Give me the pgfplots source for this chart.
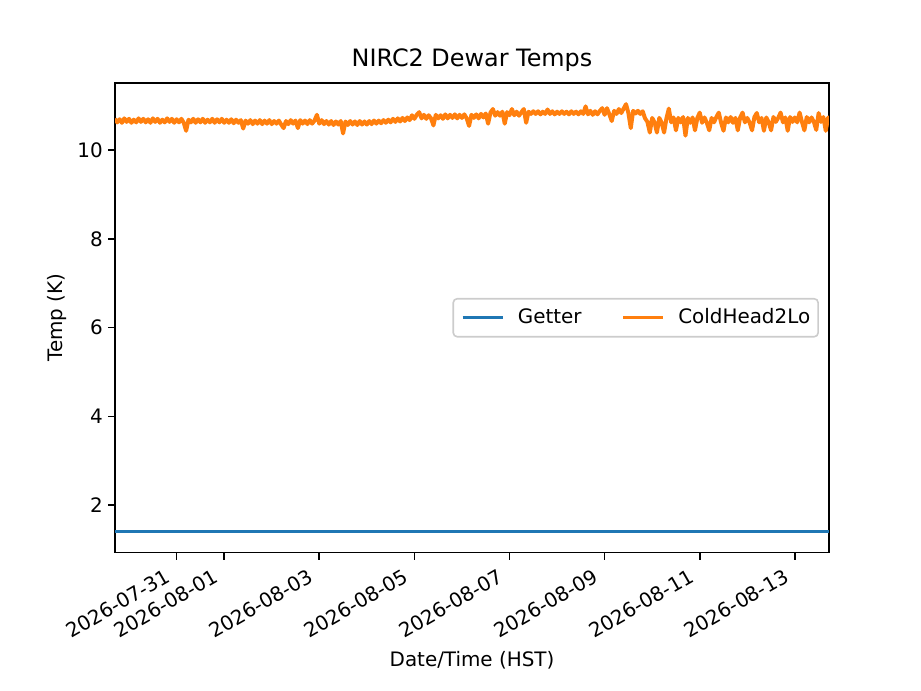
\documentclass[border=0pt]{standalone}
\usepackage{fontspec}
\setmainfont{DejaVu Sans}
\usepackage{pgfplots}
\pgfplotsset{compat=1.18}
\definecolor{mplblue}{HTML}{1F77B4}
\definecolor{mplorange}{HTML}{FF7F0E}
\begin{document}
\fontsize{10}{12}\selectfont
\begin{tikzpicture}
\path[use as bounding box] (-0.8in,-0.96in) rectangle (5.6in,3.84in);
\begin{axis}[
  at={(0,0)}, anchor=south west,
  scale only axis, width=4.96in, height=3.264in,
  xmin=-2.293, xmax=12.716, ymin=0.927, ymax=11.52,
  axis line style={line width=0.8pt, black},
  every tick/.style={line width=0.8pt, black},
  major tick length=3.5pt,
  tick align=outside,
  xtick pos=lower, ytick pos=left,
  xtick={-1,0,2,4,6,8,10,12},
  xticklabels={2026-07-31,2026-08-01,2026-08-03,2026-08-05,2026-08-07,2026-08-09,2026-08-11,2026-08-13},
  ytick={2,4,6,8,10},
  /pgf/number format/assume math mode=true,
  ticklabel style={font=\fontsize{10}{12}\selectfont},
  xticklabel style={xshift=-6pt, yshift=-4pt, rotate=30, anchor=north east, inner sep=0pt},
  yticklabel style={xshift=-2.5pt, anchor=east, inner sep=0pt},
  every axis title shift=0pt,
  title={NIRC2 Dewar Temps},
  title style={at={(axis description cs:0.5,1.0355)}, anchor=base, font=\fontsize{12}{14}\selectfont, inner sep=0pt},
  xlabel={Date/Time (HST)},
  xlabel style={at={(axis description cs:0.5,-0.2419)}, anchor=base, inner sep=0pt, font=\fontsize{10}{12}\selectfont},
  ylabel={Temp (K)},
  ylabel style={at={(axis description cs:-0.0734,0.5)}, anchor=base, inner sep=0pt, font=\fontsize{10}{12}\selectfont},
  legend columns=2,
  legend cell align=left,
  legend image code/.code={\draw[#1, line width=1.5pt] (0pt,0pt) -- (20pt,0pt);},
  legend style={at={(axis description cs:1,0.5)}, anchor=east, xshift=-5pt,
    draw=black!20, line width=0.8pt, rounded corners=2pt, fill=white, fill opacity=0.8, text opacity=1,
    font=\fontsize{10}{12}\selectfont, inner xsep=4pt, inner ysep=3.5pt,
    nodes={inner xsep=0pt, inner ysep=1.5pt},
    /tikz/every odd column/.append style={column sep=7pt},
    /tikz/every even column/.append style={column sep=20pt}},
]
\addplot[mplblue, line width=1.5pt] coordinates {(-2.30,1.40) (12.72,1.40)};
\addlegendentry{Getter}
\addplot[mplorange, line width=2pt, line join=round] coordinates {
(-2.30,10.71) (-2.25,10.63) (-2.20,10.70) (-2.15,10.62) (-2.10,10.72) (-2.05,10.64) (-2.00,10.71) (-1.95,10.62) (-1.90,10.69) (-1.85,10.63)
(-1.80,10.72) (-1.75,10.64) (-1.70,10.71) (-1.65,10.63) (-1.60,10.70) (-1.55,10.62) (-1.50,10.72) (-1.45,10.64) (-1.40,10.71) (-1.35,10.62)
(-1.30,10.69) (-1.25,10.63) (-1.20,10.72) (-1.15,10.64) (-1.10,10.71) (-1.05,10.62) (-1.00,10.70) (-0.95,10.63) (-0.90,10.71) (-0.85,10.62)
(-0.80,10.44) (-0.75,10.69) (-0.70,10.63) (-0.65,10.71) (-0.60,10.62) (-0.55,10.70) (-0.50,10.63) (-0.45,10.71) (-0.40,10.62) (-0.35,10.69)
(-0.30,10.63) (-0.25,10.71) (-0.20,10.62) (-0.15,10.70) (-0.10,10.63) (-0.05,10.71) (0.00,10.62) (0.05,10.69) (0.10,10.62) (0.15,10.70)
(0.20,10.61) (0.25,10.69) (0.30,10.62) (0.35,10.68) (0.40,10.49) (0.45,10.67) (0.50,10.60) (0.55,10.68) (0.60,10.59) (0.65,10.67)
(0.70,10.60) (0.75,10.68) (0.80,10.59) (0.85,10.67) (0.90,10.60) (0.95,10.68) (1.00,10.59) (1.05,10.66) (1.10,10.60) (1.15,10.67)
(1.20,10.58) (1.25,10.50) (1.30,10.66) (1.35,10.59) (1.40,10.68) (1.45,10.60) (1.50,10.67) (1.55,10.50) (1.60,10.68) (1.65,10.60)
(1.70,10.67) (1.75,10.59) (1.80,10.68) (1.85,10.60) (1.90,10.67) (1.95,10.80) (2.00,10.60) (2.05,10.68) (2.10,10.59) (2.15,10.66)
(2.20,10.58) (2.25,10.66) (2.30,10.57) (2.35,10.65) (2.40,10.58) (2.45,10.66) (2.50,10.38) (2.55,10.65) (2.60,10.57) (2.65,10.66)
(2.70,10.58) (2.75,10.65) (2.80,10.57) (2.85,10.66) (2.90,10.58) (2.95,10.65) (3.00,10.58) (3.05,10.66) (3.10,10.59) (3.15,10.67)
(3.20,10.60) (3.25,10.67) (3.30,10.61) (3.35,10.68) (3.40,10.62) (3.45,10.69) (3.50,10.63) (3.55,10.71) (3.60,10.64) (3.65,10.72)
(3.70,10.65) (3.75,10.73) (3.80,10.66) (3.85,10.74) (3.90,10.68) (3.95,10.79) (4.00,10.71) (4.05,10.80) (4.10,10.86) (4.15,10.72)
(4.20,10.80) (4.25,10.71) (4.30,10.79) (4.35,10.72) (4.40,10.56) (4.45,10.80) (4.50,10.72) (4.55,10.79) (4.60,10.71) (4.65,10.81)
(4.70,10.72) (4.75,10.80) (4.80,10.73) (4.85,10.81) (4.90,10.72) (4.95,10.80) (5.00,10.73) (5.05,10.81) (5.10,10.72) (5.15,10.55)
(5.20,10.80) (5.25,10.73) (5.30,10.81) (5.35,10.72) (5.40,10.82) (5.45,10.74) (5.50,10.83) (5.55,10.60) (5.60,10.85) (5.65,10.93)
(5.70,10.78) (5.75,10.86) (5.80,10.78) (5.85,10.87) (5.90,10.60) (5.95,10.86) (6.00,10.79) (6.05,10.93) (6.10,10.79) (6.15,10.87)
(6.20,10.78) (6.25,10.86) (6.30,10.93) (6.35,10.62) (6.40,10.87) (6.45,10.82) (6.50,10.88) (6.55,10.82) (6.60,10.88) (6.65,10.81)
(6.70,10.87) (6.75,10.82) (6.80,10.92) (6.85,10.82) (6.90,10.88) (6.95,10.81) (7.00,10.87) (7.05,10.82) (7.10,10.88) (7.15,10.82)
(7.20,10.87) (7.25,10.81) (7.30,10.88) (7.35,10.82) (7.40,10.87) (7.45,10.81) (7.50,10.88) (7.55,10.82) (7.60,10.99) (7.65,10.81)
(7.70,10.89) (7.75,10.80) (7.80,10.88) (7.85,10.81) (7.90,10.89) (7.95,10.95) (8.00,10.80) (8.05,10.95) (8.10,10.81) (8.15,10.66)
(8.20,10.89) (8.25,10.82) (8.30,10.93) (8.35,10.84) (8.40,10.94) (8.45,11.04) (8.50,10.84) (8.55,10.50) (8.60,10.89) (8.65,10.83)
(8.70,10.89) (8.75,10.82) (8.80,10.88) (8.85,10.72) (8.90,10.64) (8.95,10.40) (9.00,10.73) (9.05,10.63) (9.10,10.40) (9.15,10.73)
(9.20,10.62) (9.25,10.40) (9.30,10.72) (9.35,10.94) (9.40,10.63) (9.45,10.74) (9.50,10.45) (9.55,10.73) (9.60,10.63) (9.65,10.75)
(9.70,10.33) (9.75,10.73) (9.80,10.62) (9.85,10.74) (9.90,10.45) (9.95,10.73) (10.00,10.85) (10.05,10.62) (10.10,10.74) (10.15,10.62)
(10.20,10.45) (10.25,10.73) (10.30,10.63) (10.35,10.75) (10.40,10.85) (10.45,10.62) (10.50,10.44) (10.55,10.74) (10.60,10.63) (10.65,10.75)
(10.70,10.62) (10.75,10.73) (10.80,10.45) (10.85,10.74) (10.90,10.85) (10.95,10.63) (11.00,10.73) (11.05,10.62) (11.10,10.45) (11.15,10.75)
(11.20,10.84) (11.25,10.63) (11.30,10.73) (11.35,10.44) (11.40,10.74) (11.45,10.63) (11.50,10.45) (11.55,10.75) (11.60,10.64) (11.65,10.73)
(11.70,10.85) (11.75,10.63) (11.80,10.74) (11.85,10.44) (11.90,10.75) (11.95,10.64) (12.00,10.74) (12.05,10.63) (12.10,10.85) (12.15,10.64)
(12.20,10.45) (12.25,10.75) (12.30,10.63) (12.35,10.74) (12.40,10.64) (12.45,10.46) (12.50,10.84) (12.55,10.64) (12.60,10.75) (12.65,10.44)
(12.70,10.74) (12.72,10.66)
};
\addlegendentry{ColdHead2Lo}
\end{axis}
\end{tikzpicture}
\end{document}
